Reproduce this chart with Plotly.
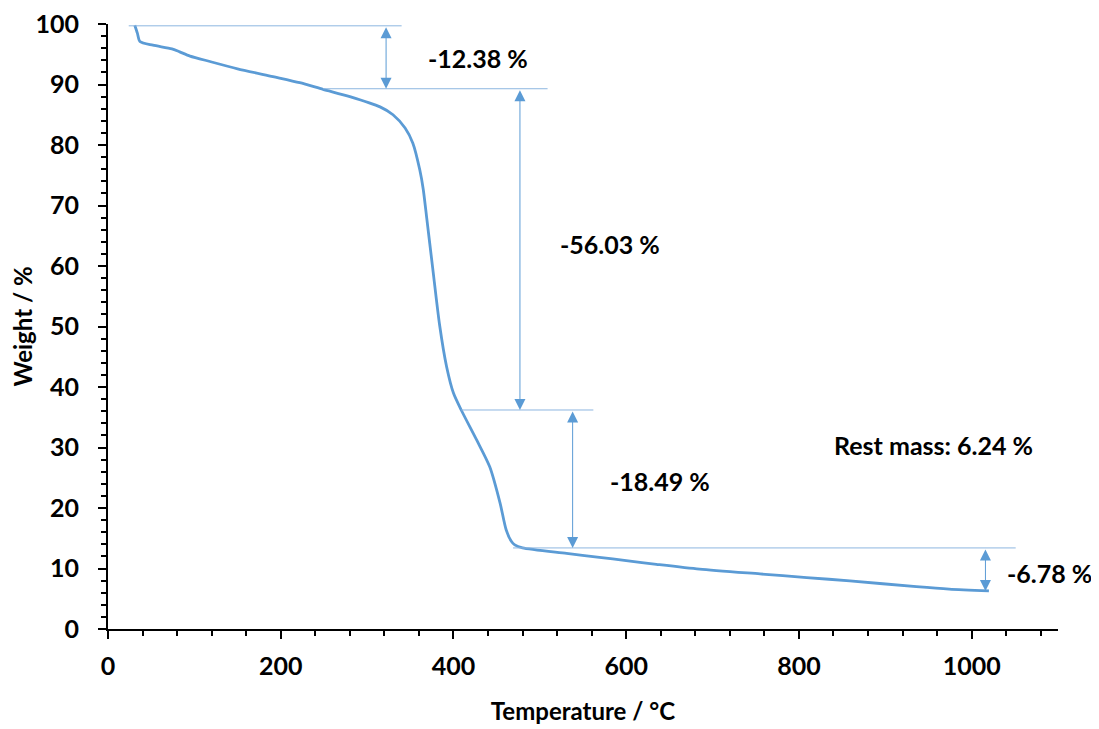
import plotly.graph_objects as go

# TGA curve
temperature = [31, 34, 37, 52, 74, 83, 95, 118, 150, 191, 222, 249, 280, 315, 330, 344,
               353, 361, 365, 369, 376, 384, 392, 400, 409, 427, 442, 454, 461, 467, 471, 480,
               531, 569, 600, 635, 685, 755, 809, 859, 936, 974, 1020]
weight = [99.8, 98.5, 97.1, 96.5, 95.9, 95.4, 94.7, 93.8, 92.6, 91.3, 90.3, 89.2, 88.0,
          86.3, 85.0, 82.8, 80.3, 75.9, 72.7, 68.0, 59.6, 50.2, 43.4, 39.0, 36.2, 31.2, 26.8,
          20.8, 16.4, 14.5, 13.9, 13.4, 12.5, 11.85, 11.3, 10.7, 9.9, 9.1, 8.5, 7.95,
          7.0, 6.6, 6.3]

# step levels (horizontal guide lines) and their x extents
level_values = [99.7, 89.3, 36.2, 13.4]
level_x_start = [24, 249, 409, 469]
level_x_end = [340, 509, 562, 1051]

# mass-loss arrows: x position, top level, bottom level
arrow_x = [322, 477, 538, 1016]
arrow_top = [99.7, 89.3, 36.2, 13.4]
arrow_bottom = [89.3, 36.2, 13.4, 6.3]

# labels
label_texts = ["-12.38 %", "-56.03 %", "-18.49 %", "Rest mass: 6.24 %", "-6.78 %"]
label_x = [428, 581, 639, 956, 1090]
label_y = [94.4, 63.6, 24.5, 30.4, 9.3]

x_ticks = [0, 200, 400, 600, 800, 1000]
y_ticks = [0, 10, 20, 30, 40, 50, 60, 70, 80, 90, 100]

BLUE = "#5B9BD5"
GUIDE = "#8DB6E0"
FONT = "Lato"

fig = go.Figure()
fig.add_trace(go.Scatter(
    x=temperature, y=weight, mode="lines",
    line=dict(color=BLUE, width=2.8, shape="spline", smoothing=0.7),
    hoverinfo="skip", showlegend=False,
))

for yv, x0, x1 in zip(level_values, level_x_start, level_x_end):
    fig.add_shape(type="line", xref="x", yref="y", x0=x0, x1=x1, y0=yv, y1=yv,
                  line=dict(color=GUIDE, width=1))

for xv, yt, yb in zip(arrow_x, arrow_top, arrow_bottom):
    fig.add_annotation(x=xv, y=yb, ax=xv, ay=yt, xref="x", yref="y", axref="x", ayref="y",
                       text="", showarrow=True, arrowhead=2, arrowside="end+start",
                       arrowsize=2.2, arrowwidth=1, arrowcolor=BLUE, standoff=0, startstandoff=0)

for t, xv, yv in zip(label_texts, label_x, label_y):
    fig.add_annotation(x=xv, y=yv, xref="x", yref="y", text=t, showarrow=False,
                       font=dict(family=FONT, size=25, color="#000000", weight="bold"),
                       xanchor="center", yanchor="middle")

axis_common = dict(
    showgrid=False, zeroline=False, showline=True, linecolor="black", linewidth=2,
    ticks="outside", ticklen=8, tickwidth=1.5, tickcolor="black",
    ticklabeloverflow="allow",
    tickfont=dict(family=FONT, size=25, color="black", weight="bold"),
)

fig.update_xaxes(
    range=[0, 1100], tickvals=x_ticks, ticklabelstandoff=6,
    minor=dict(dtick=40, ticks="outside", ticklen=5, tickwidth=1.5, tickcolor="black"),
    title=dict(text="Temperature / °C", standoff=24,
               font=dict(family=FONT, size=24, color="black", weight="bold")),
    **axis_common,
)
fig.update_yaxes(
    range=[0, 100], tickvals=y_ticks, ticklabelstandoff=14,
    minor=dict(dtick=2, ticks="outside", ticklen=5, tickwidth=1.5, tickcolor="black"),
    title=dict(text="Weight / %", standoff=0,
               font=dict(family=FONT, size=24, color="black", weight="bold")),
    **axis_common,
)

# the page body adds an 8px offset, so the figure is sized to the visible area
fig.update_layout(
    width=1091, height=721,
    margin=dict(l=100, r=41, t=16, b=100, autoexpand=False),
    plot_bgcolor="white", paper_bgcolor="white",
    showlegend=False,
)

fig.write_html("out.html")
